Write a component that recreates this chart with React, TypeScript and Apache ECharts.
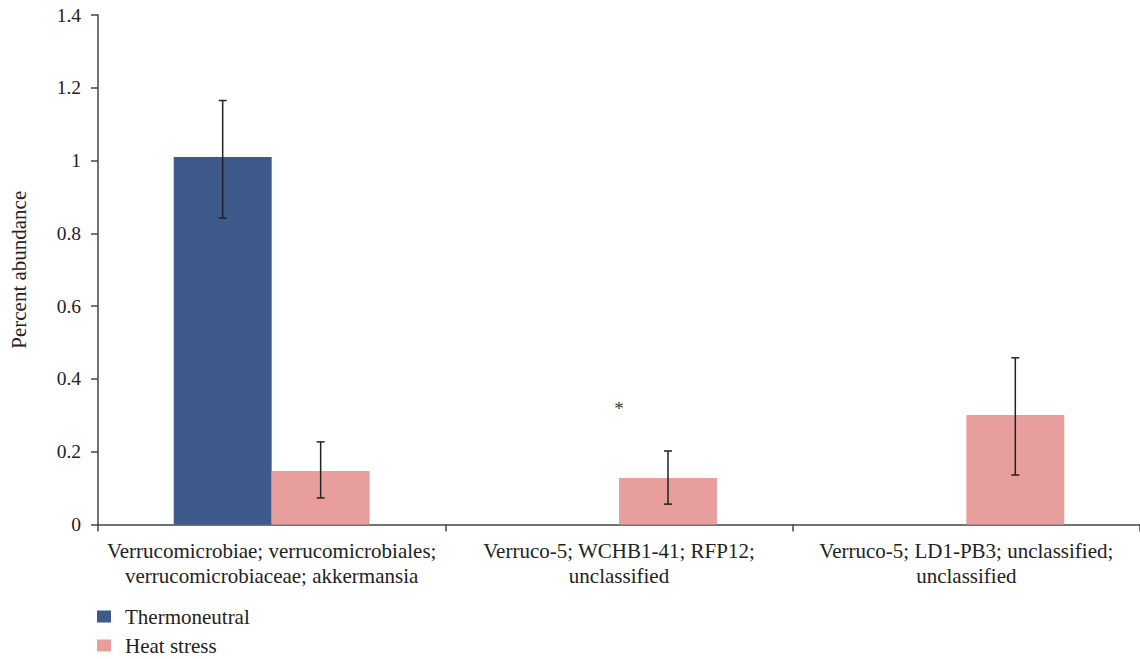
import React, { useEffect, useRef } from "react";
import * as echarts from "echarts";

const categories = [
  "Verrucomicrobiae; verrucomicrobiales;\nverrucomicrobiaceae; akkermansia",
  "Verruco-5; WCHB1-41; RFP12;\nunclassified",
  "Verruco-5; LD1-PB3; unclassified;\nunclassified",
];
const seriesNames = ["Thermoneutral", "Heat stress"];
const thermoneutral = [1.01, 0, 0];
const heatStress = [0.147, 0.128, 0.301];
// error bars: [categoryIndex, seriesIndex, low, high]
const errorBars = [
  [0, 0, 0.842, 1.165],
  [0, 1, 0.073, 0.227],
  [1, 1, 0.056, 0.202],
  [2, 1, 0.136, 0.458],
];
// significance marks: [categoryIndex, value, text]
const marks = [[1, 0.318, "*"]];
const yTicks = [0, 0.2, 0.4, 0.6, 0.8, 1, 1.2, 1.4];

const FONT = "'Liberation Serif', 'DejaVu Serif', serif";
const BLUE = "#3d5a8a";
const PINK = "#e99e9e";
const BAR_FRAC = 0.282;

export default function App() {
  const ref = useRef<HTMLDivElement>(null);
  useEffect(() => {
    document.body.style.margin = "0";
    const chart = echarts.init(ref.current!, undefined, { renderer: "svg" });
    chart.setOption({
      animation: false,
      textStyle: { fontFamily: FONT },
      grid: { left: 97, top: 15, width: 1047, height: 509.5, containLabel: false },
      legend: {
        orient: "vertical",
        left: 97,
        top: 606,
        padding: 0,
        itemWidth: 14,
        itemHeight: 12,
        itemGap: 8,
        icon: "rect",
        textStyle: { fontFamily: FONT, fontSize: 21, color: "#222", padding: [0, 0, 0, 9] },
        data: seriesNames,
      },
      xAxis: {
        type: "category",
        data: categories,
        axisLine: { lineStyle: { color: "#444", width: 1.5 } },
        axisTick: { show: true, length: 7, lineStyle: { color: "#444", width: 1.5 } },
        axisLabel: {
          fontFamily: FONT,
          fontSize: 21,
          color: "#222",
          lineHeight: 25,
          margin: 14,
          interval: 0,
        },
      },
      yAxis: {
        type: "value",
        min: 0,
        max: 1.4,
        interval: 0.2,
        name: "Percent abundance",
        nameLocation: "middle",
        nameGap: 69,
        nameTextStyle: { fontFamily: FONT, fontSize: 21, color: "#222" },
        axisLine: { show: true, lineStyle: { color: "#444", width: 1.5 } },
        axisTick: { show: true, length: 7, lineStyle: { color: "#444", width: 1.5 } },
        splitLine: { show: false },
        axisLabel: {
          fontFamily: FONT,
          fontSize: 19.5,
          color: "#222",
          margin: 17,
          formatter: (v: number) => {
            const t = yTicks.find((x) => Math.abs(x - v) < 1e-6);
            return t === undefined ? "" : String(t);
          },
        },
      },
      series: [
        {
          name: seriesNames[0],
          type: "bar",
          data: thermoneutral,
          barWidth: BAR_FRAC * 100 + "%",
          barGap: "0%",
          itemStyle: { color: BLUE },
        },
        {
          name: seriesNames[1],
          type: "bar",
          data: heatStress,
          barWidth: BAR_FRAC * 100 + "%",
          barGap: "0%",
          itemStyle: { color: PINK },
        },
        {
          type: "custom",
          data: errorBars,
          z: 10,
          renderItem: (params: any, api: any) => {
            const ci = api.value(0);
            const si = api.value(1);
            const lo = api.coord([ci, api.value(2)]);
            const hi = api.coord([ci, api.value(3)]);
            const band = api.size([1, 0])[0];
            const x = lo[0] + (si === 0 ? -1 : 1) * band * BAR_FRAC / 2;
            const cap = 4;
            const style = { stroke: "#222", lineWidth: 1.5 };
            return {
              type: "group",
              children: [
                { type: "line", shape: { x1: x, y1: lo[1], x2: x, y2: hi[1] }, style },
                { type: "line", shape: { x1: x - cap, y1: lo[1], x2: x + cap, y2: lo[1] }, style },
                { type: "line", shape: { x1: x - cap, y1: hi[1], x2: x + cap, y2: hi[1] }, style },
              ],
            };
          },
        },
        {
          type: "custom",
          data: marks,
          z: 10,
          renderItem: (params: any, api: any) => {
            const p = api.coord([api.value(0), api.value(1)]);
            return {
              type: "text",
              x: p[0],
              y: p[1],
              style: {
                text: marks[params.dataIndex][2] as string,
                fontFamily: FONT,
                fontSize: 19,
                fill: "#333",
                align: "center",
                verticalAlign: "middle",
              },
            };
          },
        },
      ],
    });
    return () => chart.dispose();
  }, []);
  return <div ref={ref} style={{ width: 1140, height: 659 }} />;
}
